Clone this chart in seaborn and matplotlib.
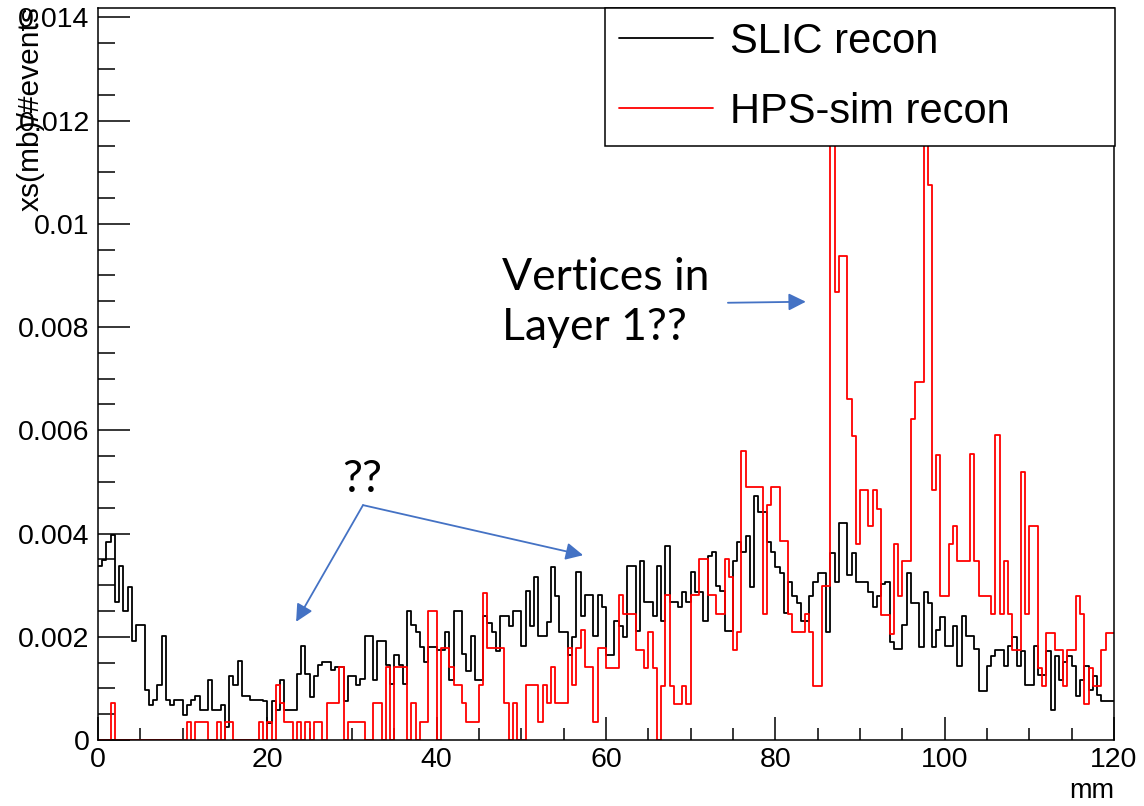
import numpy as np
import pandas as pd
import matplotlib
matplotlib.use("Agg")
import matplotlib.pyplot as plt
import seaborn as sns
from matplotlib.lines import Line2D
from matplotlib.ticker import MultipleLocator

sns.set_style("ticks")
plt.rcParams['font.family'] = ['Liberation Sans', 'DejaVu Sans']
plt.rcParams['text.color'] = 'black'

# bin contents in units of 1e-3, 240 bins of 0.5 mm from 0 to 120 mm
slic_recon = [
    3.37, 3.49, 3.84, 3.97, 2.68, 3.37, 2.50, 2.97, 1.91, 2.22,
    2.22, 0.96, 0.67, 0.78, 1.07, 2.02, 0.78, 0.68, 0.78, 0.78,
    0.49, 0.67, 0.78, 0.86, 0.59, 0.59, 1.17, 0.59, 0.59, 0.68,
    0.26, 1.24, 1.07, 1.54, 0.86, 0.86, 0.77, 0.77, 0.77,
    0.76, 0.32, 0.76, 0.58, 1.16, 0.58, 0.58, 0.58, 1.27, 1.83,
    1.27, 0.84, 1.24, 1.45, 1.52, 1.52, 1.36, 1.42, 1.42, 0.76,
    1.24, 1.24, 1.07, 1.19, 2.02, 2.02, 1.17, 1.92, 1.92, 1.45,
    1.08, 1.65, 1.45, 1.08, 2.49, 2.23, 2.10, 1.81, 1.52, 1.81, 1.81,
    1.74, 1.74, 2.10, 1.16, 2.49, 2.49, 1.66, 1.34, 2.01, 1.16,
    1.16, 2.40, 2.27, 2.10, 1.73, 2.40, 2.40, 2.21, 2.49, 2.49,
    1.83, 2.89, 2.21, 3.16, 2.01, 2.01, 2.29, 3.36, 2.78, 2.10,
    2.10, 1.65, 2.00, 3.26, 2.40, 2.81, 2.81, 2.01, 2.81, 2.58,
    1.65, 1.65, 2.31, 2.21, 2.00, 3.38, 3.38, 2.11, 3.47, 2.68,
    2.68, 2.40, 3.38, 2.31, 3.75, 2.68, 2.68, 2.58, 2.87, 2.68,
    3.26, 2.87, 2.87, 2.31, 3.56, 3.65, 2.98, 2.89, 2.11, 2.11,
    3.47, 3.84, 3.65, 3.95, 2.97, 4.72, 4.41, 4.41, 3.84, 3.65,
    3.35, 3.23, 2.46, 3.06, 2.78, 2.66, 2.30, 2.30, 2.78, 3.06,
    3.24, 3.24, 2.10, 3.63, 3.06, 4.21, 4.21, 3.19, 3.63, 3.06,
    3.06, 3.06, 2.86, 2.58, 2.78, 3.02, 3.06, 1.90, 1.77, 1.77,
    2.22, 3.24, 2.66, 2.66, 1.81, 2.86, 2.66, 1.81, 2.14, 2.38,
    1.82, 1.82, 2.21, 1.43, 2.40, 2.02, 2.02, 1.76, 0.94, 0.94,
    1.43, 1.63, 1.74, 1.74, 1.43, 1.82, 2.00, 1.43, 1.73, 1.07,
    1.07, 1.82, 1.26, 1.26, 1.73, 0.58, 1.63, 1.16, 1.52, 1.63,
    1.43, 0.86, 1.16, 1.43, 0.96, 1.24, 0.87, 0.76, 0.76, 0.76,
]

hps_sim_recon = [
    0, 0, 0, 0.71, 0, 0, 0, 0, 0, 0,
    0, 0, 0, 0, 0, 0, 0, 0, 0, 0,
    0, 0.35, 0, 0.35, 0.35, 0.35, 0, 0, 0.35, 0,
    0.35, 0.35, 0, 0, 0, 0, 0, 0, 0.35,
    0, 0.35, 0, 1.07, 0.71, 0.35, 0.35, 0, 0.35, 0,
    0.35, 0, 0.35, 0.35, 0, 0.71, 0.71, 0.71, 1.42, 0,
    0.35, 0.35, 0.35, 0.35, 0, 0, 0.71, 0.71, 0, 1.42,
    0, 1.42, 1.42, 1.42, 0, 0.71, 0, 0.35, 0.35, 2.49, 2.49,
    0, 1.78, 1.78, 1.42, 1.07, 1.07, 0.71, 0.35, 0.35, 0.35,
    1.07, 2.84, 1.78, 1.78, 1.78, 1.78, 0.71, 0, 0.71, 0,
    0, 1.07, 1.07, 1.07, 0.35, 1.07, 0.71, 1.42, 0.71, 0.71,
    0.71, 1.78, 1.07, 1.78, 2.13, 1.42, 1.42, 0.35, 1.78, 1.78,
    1.40, 1.40, 1.40, 2.80, 2.45, 2.45, 2.45, 1.75, 1.75, 1.40,
    2.10, 1.40, 0, 1.05, 2.80, 1.05, 0.70, 0.70, 1.05, 0.70,
    2.80, 2.80, 3.50, 3.50, 2.80, 2.80, 2.45, 2.45, 3.50, 3.15,
    1.75, 2.10, 5.60, 4.90, 4.90, 4.90, 4.90, 2.45, 4.55, 4.90,
    4.90, 3.85, 3.85, 2.45, 2.10, 2.10, 2.10, 2.45, 2.10, 1.05,
    1.05, 2.98, 2.98, 13.0, 8.67, 9.37, 9.37, 6.61, 5.89, 3.79,
    4.85, 4.85, 4.15, 4.85, 4.48, 2.42, 2.42, 2.06, 3.79, 2.78,
    3.47, 3.47, 6.22, 6.93, 6.93, 13.0, 10.76, 4.85, 5.52,
    2.78, 2.78, 3.80, 4.15, 3.47, 3.47, 3.47, 5.54, 3.47, 2.78,
    2.78, 2.78, 2.45, 5.91, 2.45, 3.47, 2.45, 1.74, 1.74, 5.20,
    2.45, 4.15, 4.15, 1.39, 1.05, 2.07, 2.07, 1.74, 1.74, 1.05,
    1.74, 1.74, 2.78, 2.45, 0.70, 1.39, 1.05, 1.05, 1.74, 2.07, 2.07,
]

labels = ["SLIC recon", "HPS-sim recon"]
colors = ["black", "red"]
x_ticks = [0, 20, 40, 60, 80, 100, 120]
y_ticks = [0, 0.002, 0.004, 0.006, 0.008, 0.010, 0.012, 0.014]
y_tick_labels = ["0", "0.002", "0.004", "0.006", "0.008", "0.01", "0.012", "0.014"]

n_bins = len(slic_recon)
bin_w = 120 / n_bins
centers = (np.arange(n_bins) + 0.5) * bin_w

df = pd.DataFrame({
    "mm": np.concatenate([centers, centers]),
    "xs": np.concatenate([slic_recon, hps_sim_recon]) * 1e-3,
    "sample": [labels[0]] * n_bins + [labels[1]] * n_bins,
})

fig = plt.figure(figsize=(11.44, 8.06), dpi=100)
ax = fig.add_axes([98 / 1144, 1 - 740 / 806, 1016 / 1144, 732 / 806])

for lab, col in zip(labels, colors):
    sub = df[df["sample"] == lab]
    sns.histplot(data=sub, x="mm", weights="xs", binwidth=bin_w, binrange=(0, 120),
                 element="step", fill=False, color=col, linewidth=1.3, ax=ax)

ax.set_xlim(0, 120)
ax.set_ylim(0, 0.01418)
ax.set_xticks(x_ticks)
ax.set_xticklabels([str(t) for t in x_ticks])
ax.set_yticks(y_ticks)
ax.set_yticklabels(y_tick_labels)
ax.xaxis.set_minor_locator(MultipleLocator(5))
ax.yaxis.set_minor_locator(MultipleLocator(0.0005))
ax.tick_params(axis="both", which="both", direction="in", width=1.1, colors="black",
               labelsize=20.5, top=False, right=False)
ax.tick_params(axis="y", which="major", length=23, pad=6)
ax.tick_params(axis="y", which="minor", length=12)
ax.tick_params(axis="x", which="major", length=16.5, pad=5)
ax.tick_params(axis="x", which="minor", length=8.5)
for s in ax.spines.values():
    s.set_visible(True)
    s.set_linewidth(1.1)
    s.set_color("black")

ax.set_ylabel("")
ax.set_xlabel("mm", loc="right", fontsize=19.5, color="black")
ax.xaxis.set_label_coords(1.0, -0.052)
fig.text(31 / 1144, 1 - 6 / 806, "xs(mb)/#events", rotation=90, ha="center", va="top",
         fontsize=21.5)

handles = [Line2D([], [], color=c, linewidth=1.3) for c in colors]
leg = fig.legend(handles, labels, loc="upper left", mode="expand",
                 bbox_to_anchor=(605 / 1144, 1 - 143 / 806, 510 / 1144, 135 / 806),
                 borderaxespad=0, fontsize=30, frameon=True, fancybox=False,
                 framealpha=1, edgecolor="black", borderpad=0.33, labelspacing=0.72,
                 handlelength=2.25, handletextpad=0.43)
leg.get_frame().set_linewidth(1.1)

# annotations
blue = "#4472C4"
ann_font = ["Lato", "DejaVu Sans"]
ax.text(47.7, 0.00935, "Vertices in\nLayer 1??", fontsize=32, family=ann_font,
        ha="left", va="top", linespacing=1.25)
ax.text(31.2, 0.00504, "??", fontsize=32, family=ann_font, ha="center", va="center")
arrow_kw = dict(arrowstyle="-|>", color=blue, lw=1.3, mutation_scale=26,
                shrinkA=0, shrinkB=0)
ax.annotate("", xy=(83.6, 0.00849), xytext=(74.4, 0.00847), arrowprops=arrow_kw)
ax.annotate("", xy=(23.4, 0.00229), xytext=(31.3, 0.00455), arrowprops=arrow_kw)
ax.annotate("", xy=(57.3, 0.00358), xytext=(31.3, 0.00455), arrowprops=arrow_kw)

fig.savefig("out.png", dpi=100)
